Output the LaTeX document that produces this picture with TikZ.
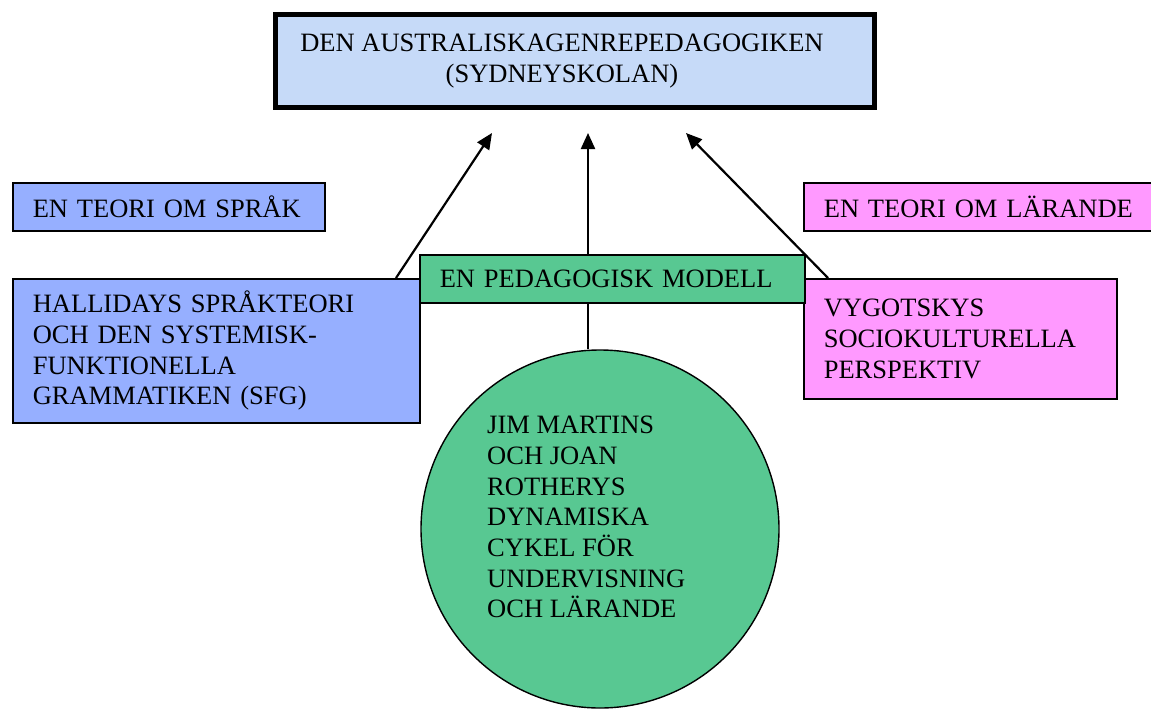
\documentclass[tikz,border=0pt]{standalone}
\usepackage{fontspec}
\setmainfont{Liberation Serif}
\usetikzlibrary{arrows.meta,calc}
\definecolor{boxblue}{RGB}{150,175,255}
\definecolor{boxpink}{RGB}{255,153,255}
\definecolor{boxgreen}{RGB}{88,200,146}
\definecolor{skyA}{RGB}{198,218,248}
\definecolor{skyB}{RGB}{222,212,246}
\begin{document}
\begin{tikzpicture}[x=1pt,y=-1pt,
    txt/.style={font=\fontsize{26.5}{30.7}\selectfont, align=left},
    tbox/.style={txt, draw, line width=1.6pt, anchor=north west, inner xsep=20pt, inner ysep=0pt},
    arr/.style={line width=2.2pt, -{Triangle[length=16pt,width=14pt]}}]
  \useasboundingbox (0,0) rectangle (1151,709);

  % top box
  \node (top) [draw, line width=5pt, minimum width=599pt, minimum height=93pt,
               left color=skyA, middle color=skyB, right color=skyA] at (575,61) {};
  \node (toptxt) [txt, align=center, inner sep=0pt] at (562,61)
        {DEN AUSTRALISKAGENREPEDAGOGIKEN\\(SYDNEYSKOLAN)};

  % theory boxes
  \node (sprak) [tbox, fill=boxblue, minimum height=48pt, text width=272pt] at (12,182)
        {EN TEORI OM SPRÅK};
  \node (hal)   [tbox, fill=boxblue, minimum height=144pt, text width=367pt] at (12,278)
        {HALLIDAYS SPRÅKTEORI\\OCH DEN SYSTEMISK-\\FUNKTIONELLA\\GRAMMATIKEN (SFG)};
  \node (lar)   [tbox, fill=boxpink, minimum height=48pt, text width=330pt] at (803,182)
        {EN TEORI OM LÄRANDE};
  \node (vyg)   [tbox, fill=boxpink, minimum height=120pt, text width=273pt] at (803,278)
        {VYGOTSKYS\\SOCIOKULTURELLA\\PERSPEKTIV};

  % pedagogical model
  \node (ped)   [tbox, fill=boxgreen, minimum height=48pt, text width=345pt] at (419,254)
        {EN PEDAGOGISK MODELL};
  \node (cyk)   [circle, draw, line width=1.4pt, fill=boxgreen, minimum size=358pt, inner sep=0pt] at (600,529) {};
  \node (cyktxt) [txt, anchor=north west, inner sep=0pt] at (487,416)
        {JIM MARTINS\\OCH JOAN\\ROTHERYS\\DYNAMISKA\\CYKEL FÖR\\UNDERVISNING\\OCH LÄRANDE};

  % arrows
  \coordinate (tipL) at (492,133);
  \coordinate (tipM) at (588,133);
  \coordinate (tipR) at (686,133);
  \draw[arr] ($(hal.north west)+(384,0)$) -- (tipL);
  \draw[arr] ($(ped.north west)+(169,0)$) -- (tipM);
  \draw[arr] ($(vyg.north west)+(25,0)$) -- (tipR);
  \draw[line width=1.6pt] ($(ped.south west)+(169,0)$) -- ($(cyk.north)+(-12,0)$);
\end{tikzpicture}
\end{document}
